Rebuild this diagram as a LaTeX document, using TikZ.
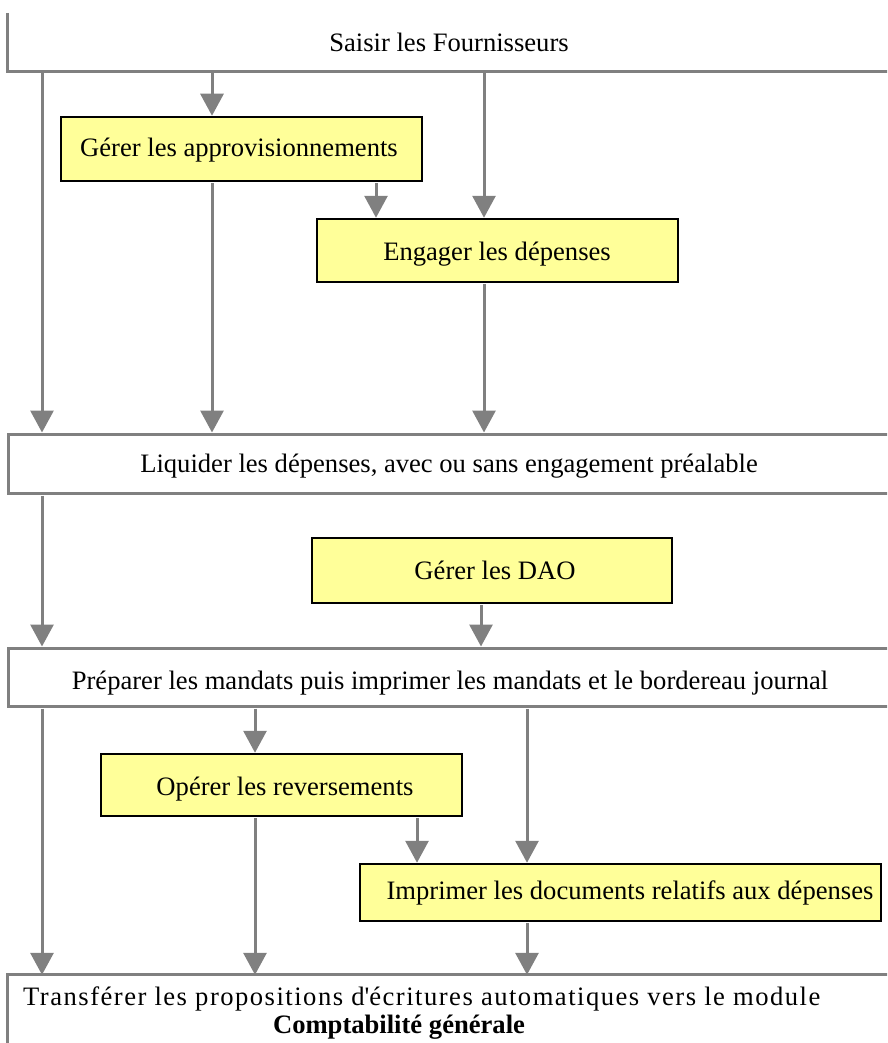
\documentclass[tikz,border=0pt]{standalone}
\usepackage{fontspec}
\setmainfont{Liberation Serif}
\usetikzlibrary{arrows.meta}
\definecolor{linegrey}{HTML}{808080}
\definecolor{boxyellow}{HTML}{FFFF99}
\tikzset{
  flow/.style={draw=linegrey, line width=3pt, shorten <=1pt,
    -{Triangle[length=22pt,width=23pt]}},
  task/.style={draw=black, fill=boxyellow, line width=2.5pt, inner sep=0pt},
  bar/.style={draw=linegrey, line width=3pt, inner sep=0pt},
  openbar/.style={inner sep=0pt},
  lbl/.style={inner sep=0pt, font=\fontsize{26.6}{31}\selectfont},
}
\begin{document}
\begin{tikzpicture}[x=1pt, y=-1pt]
\useasboundingbox (0,0) rectangle (887,1043);
\clip (0,0) rectangle (887,1043);

% column positions of the connectors
\coordinate (xa) at (42,0);
\coordinate (xb) at (212,0);
\coordinate (xc) at (376,0);
\coordinate (xd) at (484,0);
\coordinate (xe) at (481,0);
\coordinate (xf) at (255,0);
\coordinate (xg) at (417,0);
\coordinate (xh) at (527,0);

% full-width stages
\node[openbar, minimum width=892pt, minimum height=58pt] (saisir) at (454,42) {};
\draw[linegrey, line width=3pt] (saisir.north west) -- (saisir.south west) -- (saisir.south east);
\node[bar, fill=white, minimum width=892pt, minimum height=59pt] (liq) at (454,463.5) {};
\node[bar, fill=white, minimum width=892pt, minimum height=58pt] (prep) at (454,677) {};
\node[openbar, minimum width=892pt, minimum height=85pt] (trans) at (454,1017.5) {};
\draw[linegrey, line width=3pt] (trans.south west) -- (trans.north west) -- (trans.north east);

% intermediate tasks
\node[task, minimum width=361pt, minimum height=64pt] (approv) at (241.5,149) {};
\node[task, minimum width=361pt, minimum height=63pt] (engager) at (497.5,250.5) {};
\node[task, minimum width=360pt, minimum height=65pt] (dao) at (492,570.5) {};
\node[task, minimum width=361pt, minimum height=62pt] (operer) at (281.5,785) {};
\node[task, minimum width=521pt, minimum height=57pt] (impr) at (620.5,892.5) {};

% labels
\node[lbl, anchor=base] (tsaisir) at (449,52) {Saisir les Fournisseurs};
\node[lbl, anchor=base] (tapprov) at (239,157) {Gérer les approvisionnements};
\node[lbl, anchor=base] (tengager) at (497,260) {Engager les dépenses};
\node[lbl, anchor=base] (tliq) at (449,472) {Liquider les dépenses, avec ou sans engagement préalable};
\node[lbl, anchor=base] (tdao) at (495,579) {Gérer les DAO};
\node[lbl, anchor=base] (tprep) at (450,689) {Préparer les mandats puis imprimer les mandats et le bordereau journal};
\node[lbl, anchor=base] (toperer) at (285,795) {Opérer les reversements};
\node[lbl, anchor=base] (timpr) at (630,899) {Imprimer les documents relatifs aux dépenses};
\node[lbl, anchor=base west] (ttrans) at (23,1005)
  {\addfontfeature{LetterSpace=5.6}Transférer les propositions d\textquotesingle écritures automatiques vers le module};
\node[lbl, anchor=base, font=\fontsize{26.6}{31}\selectfont\bfseries] (ttrans2) at (399,1033) {Comptabilité générale};

% connectors
\draw[flow] (saisir.south -| xa) -- (liq.north -| xa);
\draw[flow] (saisir.south -| xb) -- (approv.north -| xb);
\draw[flow] (saisir.south -| xd) -- (engager.north -| xd);
\draw[flow] (approv.south -| xb) -- (liq.north -| xb);
\draw[flow] (approv.south -| xc) -- (engager.north -| xc);
\draw[flow] (engager.south -| xd) -- (liq.north -| xd);
\draw[flow] (liq.south -| xa) -- (prep.north -| xa);
\draw[flow] (dao.south -| xe) -- (prep.north -| xe);
\draw[flow] (prep.south -| xa) -- (trans.north -| xa);
\draw[flow] (prep.south -| xf) -- (operer.north -| xf);
\draw[flow] (prep.south -| xh) -- (impr.north -| xh);
\draw[flow] (operer.south -| xf) -- (trans.north -| xf);
\draw[flow] (operer.south -| xg) -- (impr.north -| xg);
\draw[flow] (impr.south -| xh) -- (trans.north -| xh);
\end{tikzpicture}
\end{document}
